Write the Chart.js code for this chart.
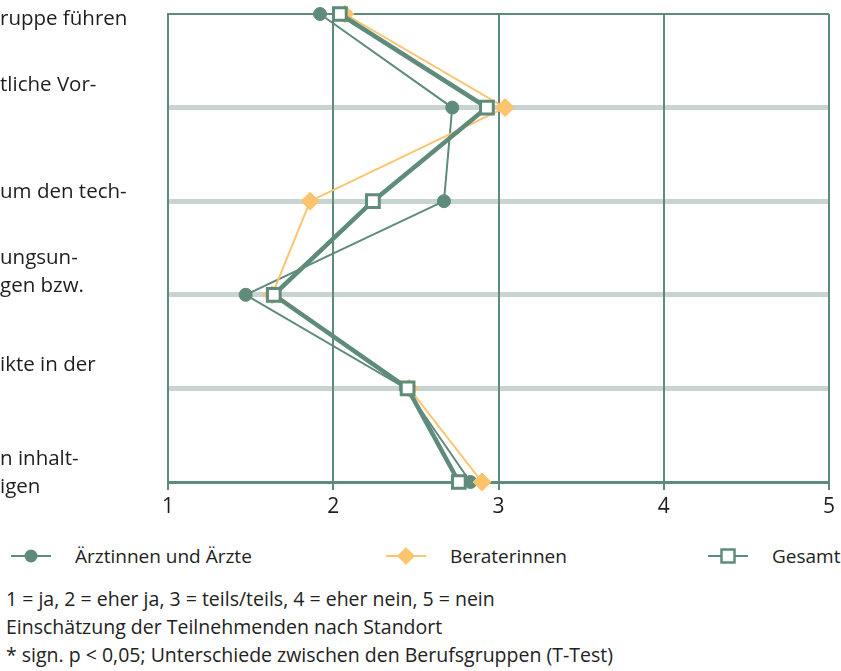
<!DOCTYPE html>
<html lang="de">
<head>
<meta charset="utf-8">
<script src="https://cdn.jsdelivr.net/npm/chart.js@4.4.1/dist/chart.umd.min.js"></script>
<style>
  html, body { margin: 0; padding: 0; background: #fff; }
  body { width: 841px; height: 671px; overflow: hidden; font-family: "Open Sans", sans-serif; color: #222; }
  #wrap { position: relative; width: 841px; height: 530px; }
  #legende { position: relative; height: 55px; font-size: 19px; }
  .item { position: absolute; top: 13px; display: flex; align-items: center; white-space: nowrap; }
  .item svg { margin-right: 24px; }
  #notizen { font-size: 19.5px; line-height: 28px; padding-left: 6px; }
</style>
</head>
<body>
<div id="wrap"><canvas id="grafik" width="841" height="530"></canvas></div>
<div id="legende"></div>
<div id="notizen">
  <div>1 = ja, 2 = eher ja, 3 = teils/teils, 4 = eher nein, 5 = nein</div>
  <div>Einschätzung der Teilnehmenden nach Standort</div>
  <div>* sign. p &lt; 0,05; Unterschiede zwischen den Berufsgruppen (T-Test)</div>
</div>
<script>
// Daten (Beschriftungen links sind im Original abgeschnitten)
const kategorien = [
  ["ruppe führen"],
  ["tliche Vor-", "", ""],
  ["um den tech-", ""],
  ["ungsun-", "gen bzw.", "", ""],
  ["ikte in der", "", ""],
  ["n inhalt-", "igen", ""]
];
const aerzte = [1.92, 2.72, 2.67, 1.47, 2.44, 2.83];
const beraterinnen = [2.07, 3.04, 1.86, 1.63, 2.46, 2.90];
const gesamt = [2.04, 2.93, 2.24, 1.64, 2.45, 2.76];
const skala = [1, 2, 3, 4, 5];

const gruen = '#5f8b7b';
const orange = '#fdc46e';
const grau = '#c7d4cf';

const serien = [
  { label: 'Ärztinnen und Ärzte', data: aerzte, farbe: gruen, stil: 'circle', breite: 2, order: 3 },
  { label: 'Beraterinnen', data: beraterinnen, farbe: orange, stil: 'rectRot', breite: 2, order: 2 },
  { label: 'Gesamt', data: gesamt, farbe: gruen, stil: 'rect', breite: 4.5, order: 1 }
];

const datasets = serien.map(s => ({
  label: s.label,
  data: s.data,
  order: s.order,
  borderColor: s.farbe,
  borderWidth: s.breite,
  tension: 0,
  clip: false,
  pointStyle: s.stil,
  pointRadius: s.stil === 'circle' ? 6.5 : 9,
  pointBackgroundColor: s.stil === 'rect' ? '#fff' : s.farbe,
  pointBorderColor: s.farbe,
  pointBorderWidth: s.stil === 'rect' ? 3 : 1
}));

const letzte = kategorien.length - 1;

new Chart(document.getElementById('grafik'), {
  type: 'line',
  data: { labels: kategorien, datasets: datasets },
  options: {
    indexAxis: 'y',
    responsive: false,
    animation: false,
    layout: { padding: { top: 14, right: 12, left: 0, bottom: 0 } },
    plugins: { legend: { display: false }, tooltip: { enabled: false } },
    scales: {
      y: {
        type: 'category',
        offset: false,
        afterFit: scale => {
          scale.width = 168;
          scale.paddingTop = 0;
          scale.paddingBottom = 0;
        },
        border: { display: true, color: gruen, width: 2 },
        grid: {
          drawTicks: false,
          color: ctx => (ctx.index === 0 || ctx.index === letzte) ? gruen : grau,
          lineWidth: ctx => ctx.index === 0 ? 2 : (ctx.index === letzte ? 3 : 5)
        },
        ticks: {
          autoSkip: false,
          crossAlign: 'far',
          padding: 0,
          labelOffset: 5,
          color: '#1e1e1e',
          font: { family: 'Open Sans', size: 20.5, lineHeight: 1.36 }
        }
      },
      x: {
        type: 'linear',
        min: skala[0],
        max: skala[skala.length - 1],
        afterFit: scale => {
          scale.height = 48;
          scale.paddingLeft = 0;
          scale.paddingRight = 0;
        },
        afterBuildTicks: scale => { scale.ticks = skala.map(v => ({ value: v })); },
        border: { display: true, color: gruen, width: 3 },
        grid: { color: gruen, lineWidth: 2, tickLength: 8 },
        ticks: {
          padding: 4,
          color: '#1e1e1e',
          font: { family: 'Open Sans', size: 21 }
        }
      }
    }
  }
});

// Legende als HTML
const legende = document.getElementById('legende');
const links = [11, 386, 708];
serien.forEach((s, i) => {
  let marker;
  if (s.stil === 'circle') marker = `<circle cx="20" cy="10" r="6.5" fill="${s.farbe}"/>`;
  else if (s.stil === 'rectRot') marker = `<polygon points="20,1 29,10 20,19 11,10" fill="${s.farbe}"/>`;
  else marker = `<rect x="13.5" y="3.5" width="13" height="13" fill="#fff" stroke="${s.farbe}" stroke-width="2.5"/>`;
  const div = document.createElement('div');
  div.className = 'item';
  div.style.left = links[i] + 'px';
  div.innerHTML = `<svg width="40" height="20"><line x1="0" y1="10" x2="40" y2="10" stroke="${s.farbe}" stroke-width="2"/>${marker}</svg><span>${s.label}</span>`;
  legende.appendChild(div);
});
</script>
</body>
</html>
